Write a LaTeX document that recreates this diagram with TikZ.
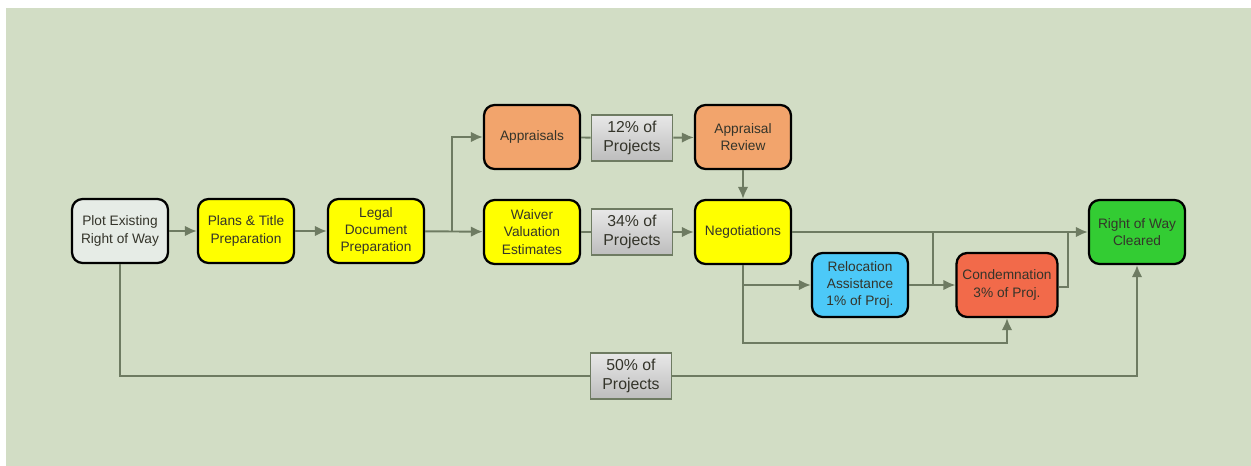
\documentclass[tikz,border=0pt]{standalone}
\usepackage{fontspec}
\setmainfont{Liberation Sans}
\usepackage{tikz}
\usetikzlibrary{arrows,arrows.meta,positioning,shapes}

\definecolor{bgsage}{HTML}{D2DDC5}
\definecolor{flowline}{HTML}{6E7B62}
\definecolor{inktext}{HTML}{34342A}
\definecolor{plotfill}{HTML}{E6ECE6}
\definecolor{stepyellow}{HTML}{FFFF00}
\definecolor{apprfill}{HTML}{F2A46C}
\definecolor{relocfill}{HTML}{4CC9F8}
\definecolor{condfill}{HTML}{F26A4A}
\definecolor{clearfill}{HTML}{33CC33}

\begin{document}
\begin{tikzpicture}[x=0.02cm,y=-0.02cm,>={Latex[length=2.4mm,width=2.1mm]},
    task/.style={draw=black,line width=1.3pt,rounded corners=6pt,
        minimum width=1.92cm,minimum height=1.28cm,align=center,
        text=inktext,font=\fontsize{7.8}{9.8}\selectfont},
    share/.style={draw=flowline,line width=1pt,top color=gray!18,bottom color=gray!52,
        minimum width=1.62cm,minimum height=0.88cm,align=center,
        text=inktext,font=\fontsize{9}{11.2}\selectfont},
    flow/.style={draw=flowline,line width=1.1pt}]
    \fill[bgsage] (6,8) rectangle (1251,466);
    \useasboundingbox (0,0) rectangle (1251,466);

    \node[task,fill=plotfill] (plot) at (120,231) {Plot Existing\\Right of Way};
    \node[task,fill=stepyellow] (plans) at (246,231) {Plans \& Title\\Preparation};
    \node[task,fill=stepyellow] (legal) at (376,231) {Legal\\Document\\Preparation};
    \node[task,fill=apprfill] (appraisals) at (532,137) {Appraisals};
    \node[share] (pct12) at (632,138) {12\% of\\Projects};
    \node[task,fill=apprfill] (review) at (743,137) {Appraisal\\Review};
    \node[task,fill=stepyellow] (waiver) at (532,232) {Waiver\\Valuation\\Estimates};
    \node[share] (pct34) at (632,232) {34\% of\\Projects};
    \node[task,fill=stepyellow] (negot) at (743,232) {Negotiations};
    \node[task,fill=relocfill] (relocation) at (860,285) {Relocation\\Assistance\\1\% of Proj.};
    \node[task,fill=condfill] (condemn) at (1007,285) {Condemnation\\3\% of Proj.};
    \node[task,fill=clearfill] (cleared) at (1137,232) {Right of Way\\Cleared};
    \node[share] (pct50) at (631,376) {50\% of\\Projects};

    \coordinate (apprsplit) at (452,232);
    \coordinate (lowrun) at (743,343);
    \coordinate (relocup) at (933,285);
    \coordinate (condup) at (1068,287);

    \draw[flow,->] (plot) -- (plans);
    \draw[flow,->] (plans) -- (legal);
    \draw[flow,->] (legal) -- (waiver);
    \draw[flow,->] (apprsplit) |- (appraisals);
    \draw[flow] (appraisals) -- (pct12);
    \draw[flow,->] (pct12) -- (review);
    \draw[flow,->] (review) -- (negot);
    \draw[flow] (waiver) -- (pct34);
    \draw[flow,->] (pct34) -- (negot);
    \draw[flow,->] (negot) -- (cleared);
    \draw[flow,->] (negot.south) |- (relocation.west);
    \draw[flow,->] (negot.south) -- (lowrun) -| (condemn.south);
    \draw[flow,->] (relocation) -- (condemn);
    \draw[flow] (relocup) -- (relocup |- cleared.west);
    \draw[flow] (condemn.east |- condup) -- (condup) -- (condup |- cleared.west);
    \draw[flow] (plot.south) |- (pct50.west);
    \draw[flow,->] (pct50.east) -| (cleared.south);
\end{tikzpicture}
\end{document}
